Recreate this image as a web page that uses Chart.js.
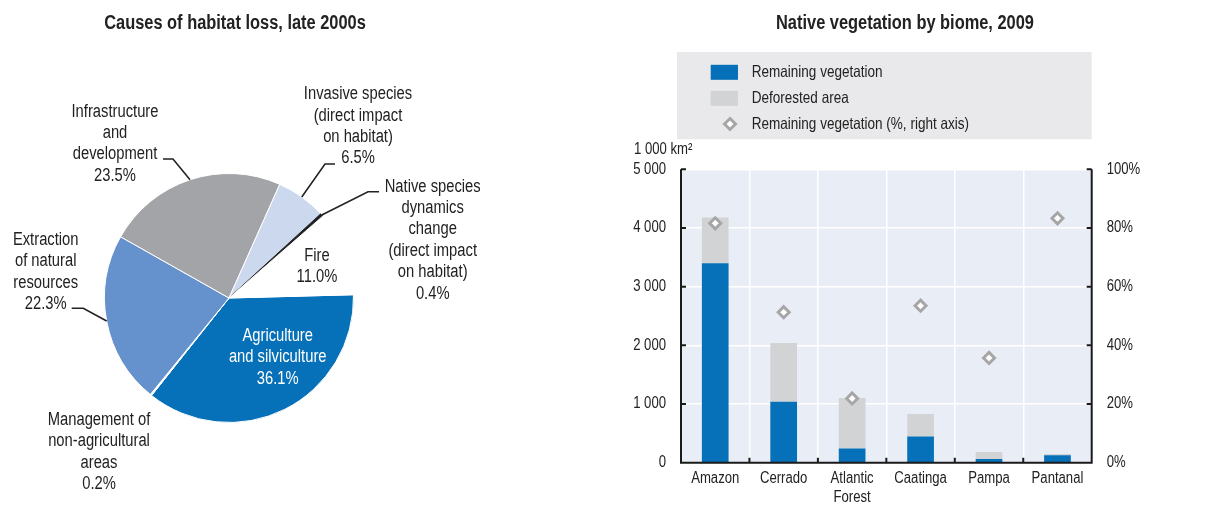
<!DOCTYPE html>
<html><head><meta charset="utf-8">
<script src="https://cdn.jsdelivr.net/npm/chart.js@4/dist/chart.umd.min.js"></script>
<style>
html,body{margin:0;padding:0;background:#fff;}
#wrap{position:relative;width:1208px;height:505px;overflow:hidden;background:#fff;}
.box{position:absolute;top:0;}
</style></head><body>
<div id="wrap">
  <div class="box" style="left:0;width:600px;height:505px"><canvas id="pie" width="600" height="505"></canvas></div>
  <div class="box" style="left:600px;width:608px;height:505px"><canvas id="bar" width="608" height="505"></canvas></div>
</div>
<script>
// ---------- DATA ----------
const pieTitle = "Causes of habitat loss, late 2000s";
const causeLabels = [
  ["Agriculture", "and silviculture"],
  ["Management of", "non-agricultural", "areas"],
  ["Extraction", "of natural", "resources"],
  ["Infrastructure", "and", "development"],
  ["Invasive species", "(direct impact", "on habitat)"],
  ["Native species", "dynamics", "change", "(direct impact", "on habitat)"],
  ["Fire"]
];
const causeShares = [36.1, 0.2, 22.3, 23.5, 6.5, 0.4, 11.0];

const barTitle = "Native vegetation by biome, 2009";
const biomes = ["Amazon", "Cerrado", ["Atlantic", "Forest"], "Caatinga", "Pampa", "Pantanal"];
const remainingArea = [3400, 1040, 240, 445, 62, 125];
const deforestedArea = [780, 1000, 862, 385, 120, 23];
const remainingPct = [81.6, 51.3, 21.9, 53.5, 35.7, 83.3];
const leftTicks = [0, 1000, 2000, 3000, 4000, 5000];
const rightTicks = [0, 20, 40, 60, 80, 100];
const leftAxisTitle = "1 000 km²";
const seriesNames = ["Remaining vegetation", "Deforested area", "Remaining vegetation (%, right axis)"];

// ---------- STYLE / LAYOUT ----------
const FONT = '"Liberation Sans", Arial, sans-serif';
const NARROW = 0.82;
const TXT = '#222222';
const BLUE = '#0670b8', GREY = '#d2d3d5', DIAM = '#a6a6a6';
const pieColors = ['#0670b8', '#ffffff', '#6592cc', '#a3a4a8', '#cbd8ee', '#222222', '#ffffff'];
const pieBorders = ['#ffffff', '#ffffff', '#ffffff', '#ffffff', '#ffffff', '#222222', '#ffffff'];
const pieLabelLayout = [
  {x: 277.7, y: 336, color: '#ffffff'},
  {x: 99, y: 420},
  {x: 45.7, y: 240, knee: [83.3, 308.3], end: [71.7, 308.3]},
  {x: 115, y: 111.7, knee: [173, 159], end: [163, 159]},
  {x: 358, y: 94.3, knee: [325, 164], end: [335, 164]},
  {x: 432.7, y: 186.7, knee: [368, 191.7], end: [379, 191.7]},
  {x: 317, y: 256}
];
const PIE_LINE = 21.4;

Chart.defaults.font.family = FONT;
Chart.defaults.color = TXT;

function ntext(ctx, text, x, y, align, font, color) {
  ctx.save();
  ctx.font = font;
  ctx.fillStyle = color || TXT;
  ctx.textAlign = align;
  ctx.textBaseline = 'middle';
  ctx.translate(x, y);
  ctx.scale(NARROW, 1);
  ctx.fillText(text, 0, 0);
  ctx.restore();
}

// ---------- PIE ----------
const pieDeco = {
  id: 'pieDeco',
  afterDraw(chart) {
    const ctx = chart.ctx;
    ntext(ctx, pieTitle, 235, 23.5, 'center', 'bold 20px ' + FONT);
    const meta = chart.getDatasetMeta(0);
    causeLabels.forEach((lines, i) => {
      const L = pieLabelLayout[i];
      const all = lines.concat([causeShares[i].toFixed(1) + '%']);
      all.forEach((t, k) => ntext(ctx, t, L.x, L.y + k * PIE_LINE, 'center', '18px ' + FONT, L.color || TXT));
      if (L.knee) {
        const p = meta.data[i].getProps(['x', 'y', 'startAngle', 'endAngle', 'outerRadius'], true);
        const a = (p.startAngle + p.endAngle) / 2;
        ctx.save();
        ctx.strokeStyle = TXT;
        ctx.lineWidth = 1.6;
        ctx.beginPath();
        ctx.moveTo(p.x + Math.cos(a) * p.outerRadius, p.y + Math.sin(a) * p.outerRadius);
        ctx.lineTo(L.knee[0], L.knee[1]);
        ctx.lineTo(L.end[0], L.end[1]);
        ctx.stroke();
        ctx.restore();
      }
    });
  }
};

new Chart(document.getElementById('pie'), {
  type: 'pie',
  data: {
    labels: causeLabels.map(l => l.join(' ')),
    datasets: [{data: causeShares, backgroundColor: pieColors, borderColor: pieBorders, borderWidth: 1}]
  },
  options: {
    responsive: false, animation: false, devicePixelRatio: 1,
    rotation: 88.5,
    layout: {padding: {left: 104, top: 173, right: 246, bottom: 82}},
    plugins: {legend: {display: false}, tooltip: {enabled: false}}
  },
  plugins: [pieDeco]
});

// ---------- BAR ----------
const fmtThousands = v => String(v).replace(/\B(?=(\d{3})+(?!\d))/g, ' ');

const barDeco = {
  id: 'barDeco',
  beforeDraw(chart) {
    const {ctx, chartArea: a} = chart;
    ctx.save();
    ctx.fillStyle = '#e9edf5';
    ctx.fillRect(a.left, a.top, a.right - a.left, a.bottom - a.top);
    ctx.restore();
  },
  afterDraw(chart) {
    const {ctx, chartArea: a, scales} = chart;
    ctx.save();
    ctx.strokeStyle = '#1a1a1a';
    ctx.lineWidth = 2;
    ctx.beginPath();
    ctx.moveTo(a.left, a.top); ctx.lineTo(a.left, a.bottom); ctx.lineTo(a.right, a.bottom); ctx.lineTo(a.right, a.top);
    leftTicks.forEach(v => { const y = scales.y.getPixelForValue(v); ctx.moveTo(a.left, y); ctx.lineTo(a.left + 5, y); });
    rightTicks.forEach(v => { const y = scales.y1.getPixelForValue(v); ctx.moveTo(a.right, y); ctx.lineTo(a.right - 5, y); });
    const cw = (a.right - a.left) / biomes.length;
    for (let i = 1; i < biomes.length; i++) { const x = a.left + i * cw; ctx.moveTo(x, a.bottom); ctx.lineTo(x, a.bottom - 5); }
    ctx.stroke();
    ctx.restore();
    // tick labels
    const f16 = '16px ' + FONT;
    leftTicks.forEach(v => ntext(ctx, fmtThousands(v), a.left - 15, scales.y.getPixelForValue(v), 'right', f16));
    rightTicks.forEach(v => ntext(ctx, v + '%', a.right + 15, scales.y1.getPixelForValue(v), 'left', f16));
    biomes.forEach((b, i) => {
      const x = scales.x.getPixelForValue(i);
      const lines = Array.isArray(b) ? b : [b];
      lines.forEach((t, k) => ntext(ctx, t, x, a.bottom + 15.6 + k * 19.7, 'center', f16));
    });
    // titles
    ntext(ctx, barTitle, 305, 23.5, 'center', 'bold 20px ' + FONT);
    ntext(ctx, leftAxisTitle, 34, 150, 'left', f16);
    // legend
    ctx.save();
    ctx.fillStyle = '#e9e9eb';
    ctx.fillRect(77, 52, 414.7, 87.3);
    ctx.fillStyle = BLUE;
    ctx.fillRect(110.7, 64.8, 27.3, 15);
    ctx.fillStyle = GREY;
    ctx.fillRect(110.7, 90.8, 27.3, 15);
    const dx = 130, dy = 124, r = 5.5;
    ctx.beginPath();
    ctx.moveTo(dx, dy - r); ctx.lineTo(dx + r, dy); ctx.lineTo(dx, dy + r); ctx.lineTo(dx - r, dy); ctx.closePath();
    ctx.fillStyle = '#ffffff'; ctx.fill();
    ctx.strokeStyle = DIAM; ctx.lineWidth = 3; ctx.stroke();
    ctx.restore();
    const fl = '16.5px ' + FONT;
    ntext(ctx, seriesNames[0], 151.7, 72.3, 'left', fl);
    ntext(ctx, seriesNames[1], 151.7, 98.3, 'left', fl);
    ntext(ctx, seriesNames[2], 151.7, 124.3, 'left', fl);
  }
};

new Chart(document.getElementById('bar'), {
  type: 'bar',
  data: {
    labels: biomes,
    datasets: [
      {label: seriesNames[0], data: remainingArea, backgroundColor: BLUE, yAxisID: 'y', order: 1,
       barPercentage: 0.39, categoryPercentage: 1},
      {label: seriesNames[1], data: deforestedArea, backgroundColor: GREY, yAxisID: 'y', order: 2,
       barPercentage: 0.39, categoryPercentage: 1},
      {type: 'line', label: seriesNames[2], data: remainingPct, yAxisID: 'y1', showLine: false,
       pointStyle: 'rectRot', pointRadius: 5.5, pointBorderWidth: 3, pointBorderColor: DIAM,
       pointBackgroundColor: '#ffffff', order: 0}
    ]
  },
  options: {
    responsive: false, animation: false, devicePixelRatio: 1,
    layout: {padding: {left: 0, right: 0, top: 169.3, bottom: 0}},
    plugins: {legend: {display: false}, tooltip: {enabled: false}},
    scales: {
      x: {
        stacked: true, offset: true,
        grid: {color: '#ffffff', lineWidth: 1.5, drawTicks: false, offset: true},
        border: {display: false},
        ticks: {display: false},
        afterFit(s) { s.height = 505 - 462.7; }
      },
      y: {
        stacked: true, position: 'left', min: 0, max: 5000,
        afterBuildTicks(s) { s.ticks = leftTicks.map(v => ({value: v})); },
        grid: {color: '#ffffff', lineWidth: 1.5, drawTicks: false},
        border: {display: false},
        ticks: {display: false},
        afterFit(s) { s.width = 81; }
      },
      y1: {
        position: 'right', min: 0, max: 100,
        afterBuildTicks(s) { s.ticks = rightTicks.map(v => ({value: v})); },
        grid: {display: false, drawTicks: false},
        border: {display: false},
        ticks: {display: false},
        afterFit(s) { s.width = 608 - 491.7; }
      }
    }
  },
  plugins: [barDeco]
});
</script>
</body></html>
